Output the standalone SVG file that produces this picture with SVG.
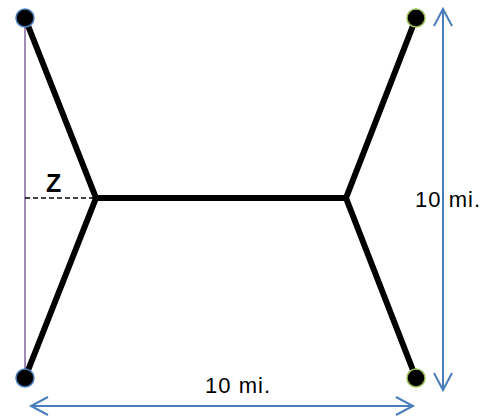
<svg xmlns="http://www.w3.org/2000/svg" width="482" height="416" viewBox="0 0 482 416">
<style>
.edge{stroke:#000;stroke-width:6;fill:none;stroke-linecap:butt;stroke-linejoin:miter}
.dim{stroke:#4a7ebb;stroke-width:2;fill:none}
.lbl{font-family:"Liberation Sans",Arial,sans-serif;font-size:22px;fill:#000}
.dotB{fill:#000;stroke:#4f81bd;stroke-width:1.5}
.dotG{fill:#000;stroke:#9bbb59;stroke-width:1.5}
</style>
<rect width="482" height="416" fill="#fff"/>
<g id="labels">
<text class="lbl" x="415" y="207" textLength="65">10 mi.</text>
<text class="lbl" x="205" y="393" textLength="65">10 mi.</text>
<text x="46" y="192" style="font-family:'Liberation Sans',Arial,sans-serif;font-size:25px;font-weight:bold">Z</text>
</g>
<g id="connectors">
<line x1="25" y1="18" x2="25" y2="378" stroke="#8064a2" stroke-width="1.5"/>
<line x1="25" y1="198" x2="96" y2="198" stroke="#000" stroke-width="1.3" stroke-dasharray="5,3"/>
<path class="edge" d="M25,18 L96,198 L25,378"/>
<path class="edge" d="M416,18 L346,198 L416,378"/>
<line class="edge" x1="96" y1="198" x2="346" y2="198"/>
<line class="dim" x1="443" y1="9" x2="443" y2="390"/>
<path class="dim" d="M434,26 L443,9 L452,26 M434,373 L443,390 L452,373"/>
<line class="dim" x1="31" y1="406" x2="413" y2="406"/>
<path class="dim" d="M48,397 L31,406 L48,415 M396,397 L413,406 L396,415"/>
</g>
<g id="n-tl"><circle class="dotB" cx="25" cy="18" r="9"/></g>
<g id="n-bl"><circle class="dotB" cx="25" cy="378" r="9"/></g>
<g id="n-tr"><circle class="dotG" cx="416" cy="18" r="9"/></g>
<g id="n-br"><circle class="dotG" cx="416" cy="378" r="9"/></g>
</svg>
